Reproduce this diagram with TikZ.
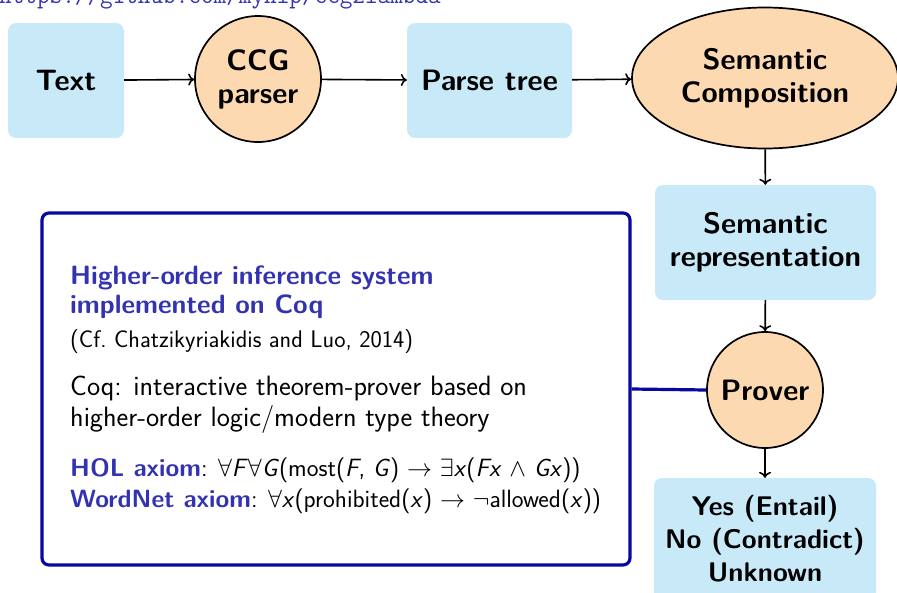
\RequirePackage{fix-cm}
\documentclass[tikz,border=0pt]{standalone}
\usetikzlibrary{shapes.geometric,arrows.meta}
\definecolor{flowfill}{RGB}{200,233,248}
\definecolor{peach}{RGB}{253,217,178}
\definecolor{structblue}{RGB}{51,51,178}
\definecolor{frameblue}{RGB}{8,8,160}
\begin{document}
\begin{tikzpicture}[x=1pt,y=-1pt,
  label font/.style={font=\fontsize{29.5}{33}\selectfont\sffamily\bfseries},
  flowbox/.style={label font, fill=flowfill, rounded corners=8pt, inner sep=0pt, align=center},
  roundnode/.style={label font, circle, draw=black, line width=1.7pt, fill=peach, inner sep=0pt, align=center},
  ovalnode/.style={label font, ellipse, draw=black, line width=1.7pt, fill=peach, inner sep=0pt, align=center},
  flow/.style={-{To[length=6pt,width=12pt]}, line width=1.6pt, black},
  linkline/.style={line width=3.2pt, frameblue},
  bodytext/.style={anchor=base west, inner sep=0pt, font=\fontsize{28}{32}\selectfont\sffamily},
  headtext/.style={bodytext, text=structblue, font=\fontsize{26.5}{30}\selectfont\sffamily\bfseries},
  smalltext/.style={bodytext, font=\fontsize{24}{26}\selectfont\sffamily},
  axiomtext/.style={bodytext, font=\fontsize{25}{30}\selectfont\sffamily}
]
\useasboundingbox (0,0) rectangle (897,592);

% project URL, running off the top edge
\node[anchor=base west, inner sep=0pt, text=structblue, font=\fontsize{24.5}{28}\selectfont\ttfamily] (url) at (-1,3) {https://github.com/mynlp/ccg2lambda};

% pipeline
\node[flowbox, minimum width=116pt, minimum height=115pt] (text) at (66,80.5) {Text};
\node[roundnode, minimum size=126pt] (ccg) at (258,79) {CCG\\parser};
\node[flowbox, minimum width=165pt, minimum height=115pt] (tree) at (489.5,80.5) {Parse tree};
\node[ovalnode, minimum width=266pt, minimum height=141pt] (comp) at (765,78) {Semantic\\Composition};
\node[flowbox, minimum width=221pt, minimum height=115pt] (rep) at (765.5,242.5) {Semantic\\representation};
\node[roundnode, minimum size=116pt] (prover) at (765,390) {Prover};
\node[flowbox, minimum width=222pt, minimum height=122pt, font=\fontsize{27}{33}\selectfont\sffamily\bfseries] (result) at (765,539) {Yes (Entail)\\No (Contradict)\\Unknown};

\draw[flow] (text) -- (ccg);
\draw[flow] (ccg) -- (tree);
\draw[flow] (tree) -- (comp);
\draw[flow] (comp) -- (rep);
\draw[flow] (rep) -- (prover);
\draw[flow] (prover) -- (result);

% higher-order inference panel
\node[draw=frameblue, line width=3.2pt, rounded corners=7pt, minimum width=588pt, minimum height=352pt, inner sep=0pt] (hol) at (336,389) {};
\draw[linkline] (hol.east) -- (prover.west);

\node[headtext] (head1) at (70,284) {Higher-order inference system};
\node[headtext] (head2) at (70,313) {implemented on Coq};
\node[smalltext] (cite) at (70,347) {(Cf.\ Chatzikyriakidis and Luo, 2014)};
\node[bodytext] (coq1) at (70,395) {Coq: interactive theorem-prover based on};
\node[bodytext] (coq2) at (70,426) {higher-order logic/modern type theory};
\node[axiomtext] (ax1) at (70,476) {\textcolor{structblue}{\bfseries HOL axiom}: $\forall$\textit{F}$\forall$\textit{G}(most(\textit{F}, \textit{G}) $\rightarrow$ $\exists$\textit{x}(\textit{Fx} $\wedge$ \textit{Gx}))};
\node[axiomtext] (ax2) at (70,507) {\textcolor{structblue}{\bfseries WordNet axiom}: $\forall$\textit{x}(prohibited(\textit{x}) $\rightarrow$ $\neg$allowed(\textit{x}))};
\end{tikzpicture}
\end{document}
